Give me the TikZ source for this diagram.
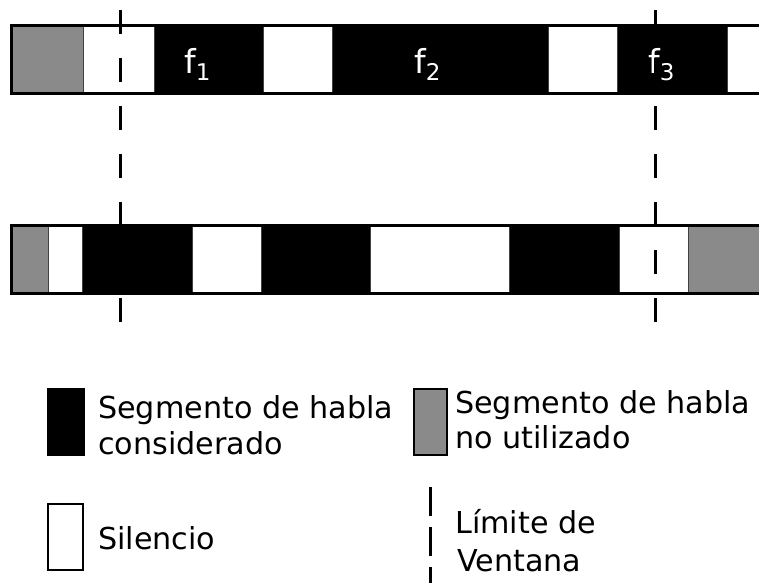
\documentclass[tikz,border=0pt]{standalone}
\usepackage{fontspec}
\setmainfont{DejaVu Sans}
\definecolor{unusedgray}{RGB}{138,138,138}
\begin{document}
\begin{tikzpicture}[x=1pt,y=-1pt,
  segbox/.style={draw=black!75,line width=0.8pt},
  barline/.style={line width=2.5pt},
  winline/.style={line width=3pt,dash pattern=on 24pt off 24pt},
  legline/.style={line width=3pt,dash pattern=on 29pt off 11pt},
  legtext/.style={anchor=base west,inner sep=0pt,font=\fontsize{30.2}{36}\selectfont},
  flabel/.style={anchor=base west,inner sep=0pt,text=white,font=\fontsize{33}{36}\selectfont}
]
\useasboundingbox (0,0) rectangle (759,582);
% top bar
\foreach \a/\b/\c in {11/83/unusedgray,83/154/white,154/263/black,263/332/white,332/548/black,548/617/white,617/727/black,727/765/white}
  \filldraw[segbox,fill=\c] (\a,25) rectangle (\b,94);
\draw[barline] (765,25.5) -- (11.5,25.5) -- (11.5,93.5) -- (765,93.5);
% bottom bar
\foreach \a/\b/\c in {11/48/unusedgray,48/82/white,82/192/black,192/261/white,261/370/black,370/509/white,509/619/black,619/688/white,688/765/unusedgray}
  \filldraw[segbox,fill=\c] (\a,225) rectangle (\b,294);
\draw[barline] (765,225.5) -- (11.5,225.5) -- (11.5,293.5) -- (765,293.5);
% labels
\node[flabel] (f1) at (184,73) {f\raisebox{-7pt}{\fontsize{23}{23}\selectfont 1}};
\node[flabel] (f2) at (414,73) {f\raisebox{-7pt}{\fontsize{23}{23}\selectfont 2}};
\node[flabel] (f3) at (648,73) {f\raisebox{-7pt}{\fontsize{23}{23}\selectfont 3}};
% window limits
\coordinate (w1a) at (120,10); \coordinate (w1b) at (120,323);
\coordinate (w2a) at (655,10); \coordinate (w2b) at (655,323);
\draw[winline] (w1a) -- (w1b);
\draw[winline] (w2a) -- (w2b);
% legend
\fill[black] (47,388) rectangle (85,456);
\node[legtext] (l1a) at (98,418) {Segmento de habla};
\node[legtext] (l1b) at (98,454) {considerado};
\filldraw[fill=unusedgray,draw=black,line width=2.2pt] (414,389) rectangle (447,455);
\node[legtext] (l2a) at (455,413) {Segmento de habla};
\node[legtext] (l2b) at (455,448) {no utilizado};
\draw[line width=2.2pt] (48,504) rectangle (83,570);
\node[legtext] (l3) at (98,549) {Silencio};
\coordinate (lga) at (430.5,487); \coordinate (lgb) at (430.5,600);
\draw[legline] (lga) -- (lgb);
\node[legtext] (l4a) at (455,533) {Límite de};
\node[legtext] (l4b) at (457,571) {Ventana};
\end{tikzpicture}
\end{document}
